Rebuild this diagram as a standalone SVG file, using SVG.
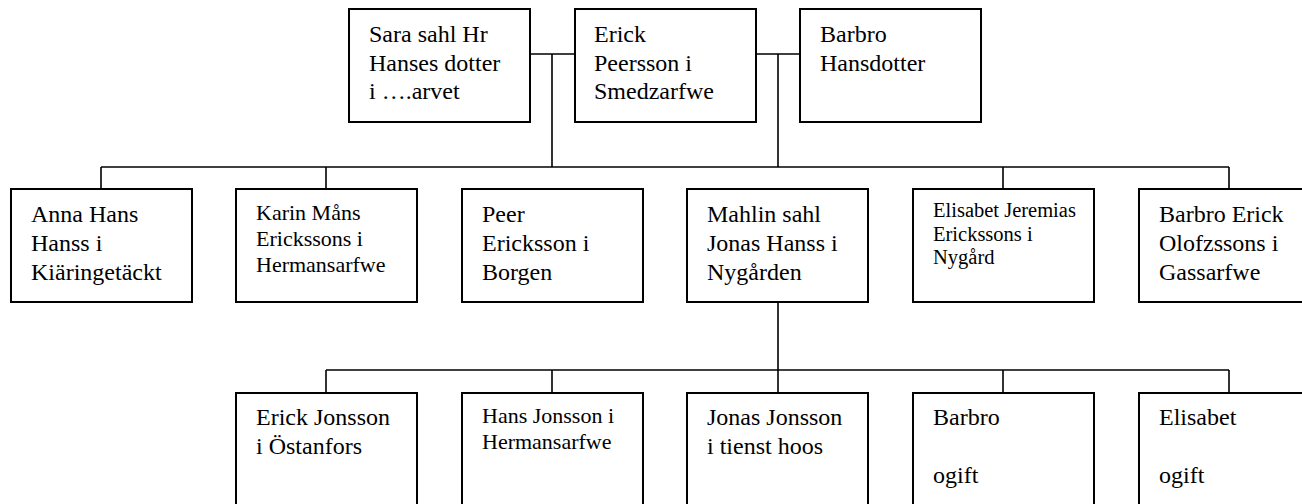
<svg xmlns="http://www.w3.org/2000/svg" width="1302" height="504" viewBox="0 0 1302 504">
<style>
  .box { fill: #ffffff; stroke: #000000; stroke-width: 2; }
  .conn { fill: none; stroke: #000000; stroke-width: 1.6; }
  text { font-family: "Liberation Serif", "Times New Roman", serif; fill: #000000; }
  .t24 { font-size: 24px; }
  .t22 { font-size: 22px; }
  .t20 { font-size: 20.5px; }
</style>
<rect x="0" y="0" width="1302" height="504" fill="#ffffff"/>

<g id="connectors">
  <path class="conn" d="M530 54 H575 M756 54 H800"/>
  <path class="conn" d="M552 54 V167 M778 54 V167"/>
  <path class="conn" d="M101 167 H1229"/>
  <path class="conn" d="M101 167 V189 M326 167 V189 M1003 167 V189 M1229 167 V189"/>
  <path class="conn" d="M778 302 V393"/>
  <path class="conn" d="M326 370 H1229"/>
  <path class="conn" d="M326 370 V393 M552 370 V393 M1003 370 V393 M1229 370 V393"/>
</g>

<g id="sara">
  <rect class="box" x="349" y="9" width="181" height="113"/>
  <text class="t24" x="369" y="42">Sara sahl Hr</text>
  <text class="t24" x="369" y="71">Hanses dotter</text>
  <text class="t24" x="369" y="99">i ….arvet</text>
</g>
<g id="erick">
  <rect class="box" x="575" y="9" width="181" height="113"/>
  <text class="t24" x="594" y="42">Erick</text>
  <text class="t24" x="594" y="71">Peersson i</text>
  <text class="t24" x="594" y="99">Smedzarfwe</text>
</g>
<g id="barbro-hansdotter">
  <rect class="box" x="800" y="9" width="181" height="113"/>
  <text class="t24" x="820" y="42">Barbro</text>
  <text class="t24" x="820" y="71">Hansdotter</text>
</g>

<g id="anna">
  <rect class="box" x="11" y="189" width="181" height="113"/>
  <text class="t24" x="31" y="222">Anna Hans</text>
  <text class="t24" x="31" y="251">Hanss i</text>
  <text class="t24" x="31" y="280">Kiäringetäckt</text>
</g>
<g id="karin">
  <rect class="box" x="236" y="189" width="181" height="113"/>
  <text class="t22" x="256" y="220">Karin Måns</text>
  <text class="t22" x="256" y="246">Erickssons i</text>
  <text class="t22" x="256" y="272">Hermansarfwe</text>
</g>
<g id="peer">
  <rect class="box" x="462" y="189" width="181" height="113"/>
  <text class="t24" x="482" y="222">Peer</text>
  <text class="t24" x="482" y="251">Ericksson i</text>
  <text class="t24" x="482" y="280">Borgen</text>
</g>
<g id="mahlin">
  <rect class="box" x="687" y="189" width="181" height="113"/>
  <text class="t24" x="707" y="222">Mahlin sahl</text>
  <text class="t24" x="707" y="251">Jonas Hanss i</text>
  <text class="t24" x="707" y="280">Nygården</text>
</g>
<g id="elisabet-jeremias">
  <rect class="box" x="913" y="189" width="181" height="113"/>
  <text class="t20" x="933" y="217">Elisabet Jeremias</text>
  <text class="t20" x="933" y="241">Erickssons i</text>
  <text class="t20" x="933" y="264">Nygård</text>
</g>
<g id="barbro-erick">
  <rect class="box" x="1139" y="189" width="181" height="113"/>
  <text class="t24" x="1159" y="222">Barbro Erick</text>
  <text class="t24" x="1159" y="251">Olofzssons i</text>
  <text class="t24" x="1159" y="280">Gassarfwe</text>
</g>

<g id="erick-jonsson">
  <rect class="box" x="236" y="393" width="181" height="130"/>
  <text class="t24" x="256" y="425">Erick Jonsson</text>
  <text class="t24" x="256" y="454">i Östanfors</text>
</g>
<g id="hans-jonsson">
  <rect class="box" x="462" y="393" width="181" height="130"/>
  <text class="t22" x="482" y="423">Hans Jonsson i</text>
  <text class="t22" x="482" y="449">Hermansarfwe</text>
</g>
<g id="jonas-jonsson">
  <rect class="box" x="687" y="393" width="181" height="130"/>
  <text class="t24" x="707" y="425">Jonas Jonsson</text>
  <text class="t24" x="707" y="454">i tienst hoos</text>
</g>
<g id="barbro-ogift">
  <rect class="box" x="913" y="393" width="181" height="130"/>
  <text class="t24" x="933" y="425">Barbro</text>
  <text class="t24" x="933" y="483">ogift</text>
</g>
<g id="elisabet-ogift">
  <rect class="box" x="1139" y="393" width="181" height="130"/>
  <text class="t24" x="1159" y="425">Elisabet</text>
  <text class="t24" x="1159" y="483">ogift</text>
</g>
</svg>
